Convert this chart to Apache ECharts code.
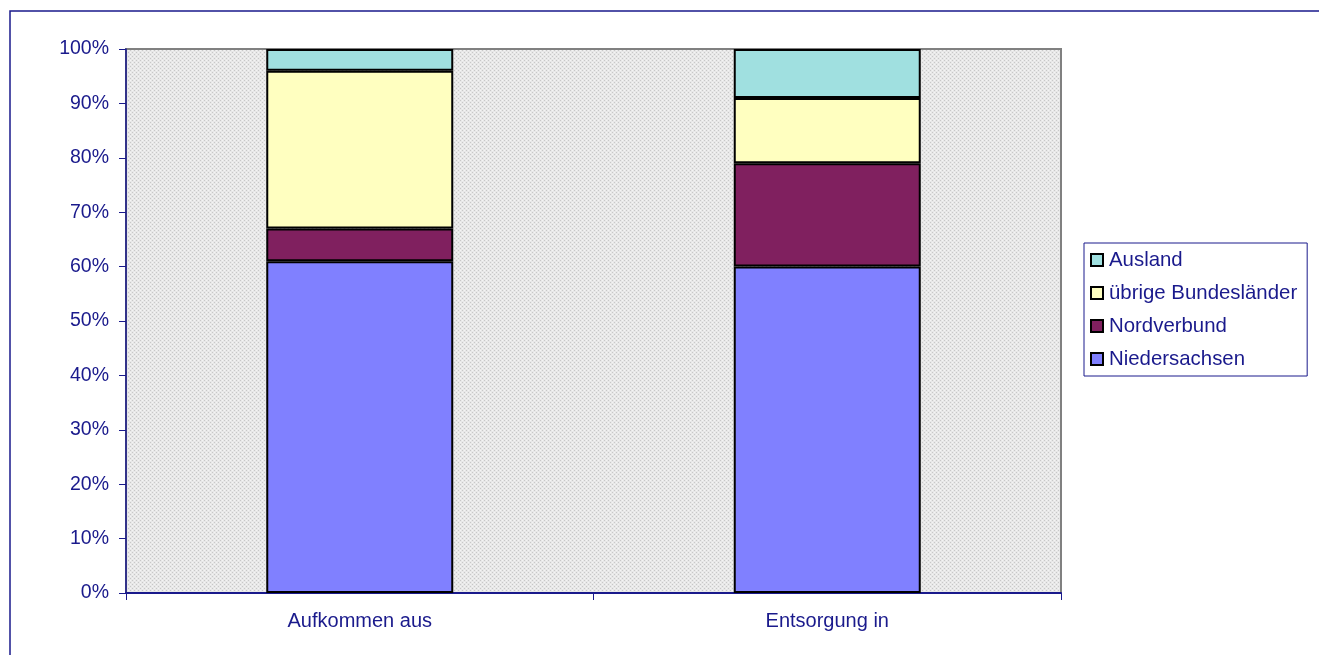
<!DOCTYPE html>
<html>
<head>
<meta charset="utf-8">
<script src="https://cdn.jsdelivr.net/npm/echarts@6/dist/echarts.min.js"></script>
<style>
  html, body { margin: 0; padding: 0; background: #fff; }
  #chart { width: 1319px; height: 655px; }
</style>
</head>
<body>
<div id="chart"></div>
<script>
// Share of waste volumes by region (percent of total)
const categories = ['Aufkommen aus', 'Entsorgung in'];
const niedersachsen = [61, 60];
const nordverbund = [6, 19];
const uebrigeBundeslaender = [29, 12];
const ausland = [4, 9];
const seriesNames = ['Niedersachsen', 'Nordverbund', 'übrige Bundesländer', 'Ausland'];
const seriesColors = ['#8080FF', '#80205F', '#FFFFC0', '#A0E0E0'];

const navy = '#1a1a8c';
const font = 'Liberation Sans, Arial, sans-serif';

// dotted grey fill for the plot area
function dotPattern() {
  const c = document.createElement('canvas');
  c.width = 4; c.height = 4;
  const g = c.getContext('2d');
  g.fillStyle = '#e8e8e8';
  g.fillRect(0, 0, 4, 4);
  g.fillStyle = '#c8c8c8';
  g.fillRect(0, 0, 1, 1);
  g.fillRect(2, 2, 1, 1);
  g.fillStyle = '#f4f4f4';
  g.fillRect(2, 0, 1, 1);
  g.fillRect(0, 2, 1, 1);
  return { image: c, repeat: 'repeat' };
}

const values = [niedersachsen, nordverbund, uebrigeBundeslaender, ausland];

const chart = echarts.init(document.getElementById('chart'), null, { renderer: 'canvas' });
chart.setOption({
  animation: false,
  backgroundColor: '#ffffff',
  grid: {
    left: 126, right: 258, top: 49, bottom: 62,
    show: true,
    backgroundColor: dotPattern(),
    borderColor: '#808080',
    borderWidth: 2
  },
  legend: {
    orient: 'vertical',
    left: 1084, top: 243,
    data: seriesNames.slice().reverse(),
    icon: 'rect',
    itemWidth: 12, itemHeight: 12,
    itemGap: 13,
    padding: [7, 10, 7, 6],
    borderColor: navy,
    borderWidth: 1,
    itemStyle: { borderColor: '#000', borderWidth: 2 },
    textStyle: { color: navy, fontFamily: font, fontSize: 20.4, lineHeight: 20, padding: [0, 0, 0, 1] }
  },
  graphic: [{
    type: 'rect',
    shape: { x: 10, y: 11, width: 1330, height: 700 },
    style: { fill: null, stroke: navy, lineWidth: 1.5 },
    silent: true, z: 100
  }],
  xAxis: {
    type: 'category',
    data: categories,
    axisLine: { lineStyle: { color: navy, width: 2 } },
    axisTick: { show: true, length: 7, lineStyle: { color: navy, width: 1 } },
    axisLabel: { color: navy, fontFamily: font, fontSize: 20, margin: 18 },
    splitLine: { show: false }
  },
  yAxis: {
    type: 'value',
    min: 0, max: 100, interval: 10,
    axisLine: { show: true, lineStyle: { color: navy, width: 1.5 } },
    axisTick: { show: true, length: 7, lineStyle: { color: navy, width: 1 } },
    axisLabel: { color: navy, fontFamily: font, fontSize: 19.5, margin: 17, formatter: '{value}%' },
    splitLine: { show: false }
  },
  series: seriesNames.map((name, i) => ({
    name,
    type: 'bar',
    stack: 'total',
    barWidth: '40%',
    data: values[i],
    itemStyle: { color: seriesColors[i], borderColor: '#000', borderWidth: 2 }
  }))
});
</script>
</body>
</html>
